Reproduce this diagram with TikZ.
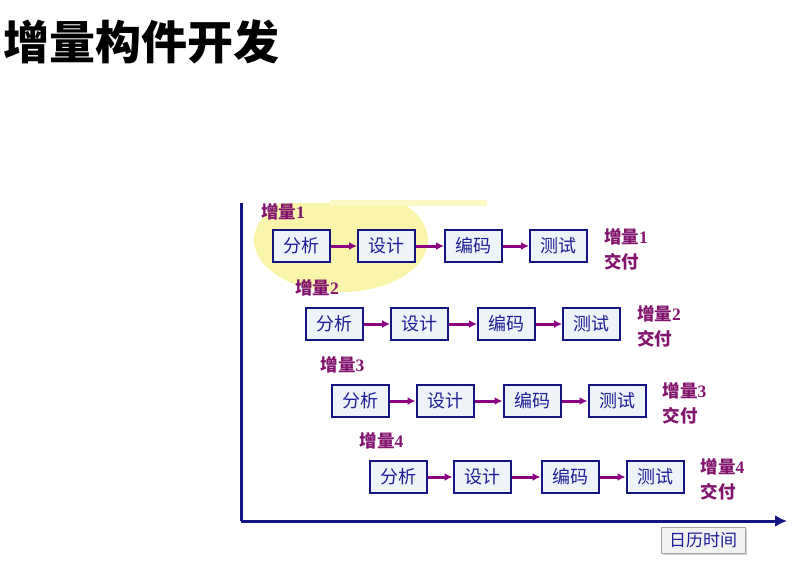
\documentclass[tikz,border=0pt]{standalone}
\usepackage{fontspec}
\setmainfont{Liberation Serif}
\newfontfamily\cjk{Noto Sans CJK SC}
\usetikzlibrary{arrows.meta,positioning,shadows}

\definecolor{axisblue}{RGB}{20,20,130}
\definecolor{boxfill}{RGB}{238,243,248}
\definecolor{boxtext}{RGB}{30,30,150}
\definecolor{incpurple}{RGB}{130,20,110}
\definecolor{flowpurple}{RGB}{140,0,130}
\definecolor{hilite}{RGB}{248,245,170}

\begin{document}
\begin{tikzpicture}[
  x=1pt,y=-1pt,
  >=Latex,
  phase/.style={draw=axisblue,fill=boxfill,line width=2pt,
    minimum width=57pt,minimum height=32pt,inner sep=0pt,
    font=\cjk\fontsize{18}{20}\selectfont,text=boxtext},
  inc/.style={font=\cjk\bfseries\fontsize{17.5}{25}\selectfont,text=incpurple,
    align=left,inner sep=0pt},
  flow/.style={draw=flowpurple,line width=3pt,
    arrows={-Latex[length=8pt,width=8pt]}},
  axis/.style={draw=axisblue,line width=3pt}
]
\useasboundingbox (0,0) rectangle (801,560);

% title
\node[font=\cjk\bfseries\fontsize{46}{50}\selectfont,anchor=west,inner sep=0pt]
  (title) at (3,42) {增量构件开发};

% highlight of the first increment
\begin{scope}
\clip (240,203) rectangle (500,320);
\fill[hilite] (341,240) ellipse [x radius=87,y radius=52];
\end{scope}
\fill[hilite!70] (330,200) rectangle (487,206);

% axes
\coordinate (o) at (241,521);
\coordinate (top) at (241,203);
\coordinate (tip) at (787,521);
\draw[axis] (top) -- (o);
\draw[axis,-{Latex[length=12pt,width=12pt]}] (o) -- (tip);
\node[draw=gray!70,fill=gray!10,drop shadow={opacity=.35,shadow xshift=2pt,shadow yshift=-2pt},
  minimum width=84pt,minimum height=26pt,inner sep=0pt,
  font=\cjk\fontsize{17}{20}\selectfont,text=boxtext]
  (time) at (703,540) {日历时间};

% increment 1
\node[phase] (a1) at (301.5,246) {分析};
\node[phase,right=26pt of a1] (d1) {设计};
\node[phase,right=28pt of d1] (c1) {编码};
\node[phase,right=26pt of c1] (t1) {测试};
\node[inc,anchor=south west] (l1) at ([xshift=-11pt,yshift=9pt]a1.north west) {增量{\rmfamily 1}};
\node[inc,anchor=west] (r1) at ([xshift=16pt,yshift=-3pt]t1.east) {增量{\rmfamily 1}\\交付};
\draw[flow] (a1) -- (d1);
\draw[flow] (d1) -- (c1);
\draw[flow] (c1) -- (t1);

% increment 2
\node[phase] (a2) at (334.5,324) {分析};
\node[phase,right=26pt of a2] (d2) {设计};
\node[phase,right=28pt of d2] (c2) {编码};
\node[phase,right=26pt of c2] (t2) {测试};
\node[inc,anchor=south west] (l2) at ([xshift=-10pt,yshift=11pt]a2.north west) {增量{\rmfamily 2}};
\node[inc,anchor=west] (r2) at ([xshift=16pt,yshift=-2pt]t2.east) {增量{\rmfamily 2}\\交付};
\draw[flow] (a2) -- (d2);
\draw[flow] (d2) -- (c2);
\draw[flow] (c2) -- (t2);

% increment 3
\node[phase] (a3) at (360,401) {分析};
\node[phase,right=26pt of a3] (d3) {设计};
\node[phase,right=28pt of d3] (c3) {编码};
\node[phase,right=26pt of c3] (t3) {测试};
\node[inc,anchor=south west] (l3) at ([xshift=-10pt,yshift=11pt]a3.north west) {增量{\rmfamily 3}};
\node[inc,anchor=west] (r3) at ([xshift=16pt,yshift=-2pt]t3.east) {增量{\rmfamily 3}\\交付};
\draw[flow] (a3) -- (d3);
\draw[flow] (d3) -- (c3);
\draw[flow] (c3) -- (t3);

% increment 4
\node[phase] (a4) at (398,477) {分析};
\node[phase,right=25pt of a4] (d4) {设计};
\node[phase,right=29pt of d4] (c4) {编码};
\node[phase,right=26pt of c4] (t4) {测试};
\node[inc,anchor=south west] (l4) at ([xshift=-9pt,yshift=11pt]a4.north west) {增量{\rmfamily 4}};
\node[inc,anchor=west] (r4) at ([xshift=16pt,yshift=-2pt]t4.east) {增量{\rmfamily 4}\\交付};
\draw[flow] (a4) -- (d4);
\draw[flow] (d4) -- (c4);
\draw[flow] (c4) -- (t4);
\end{tikzpicture}
\end{document}
